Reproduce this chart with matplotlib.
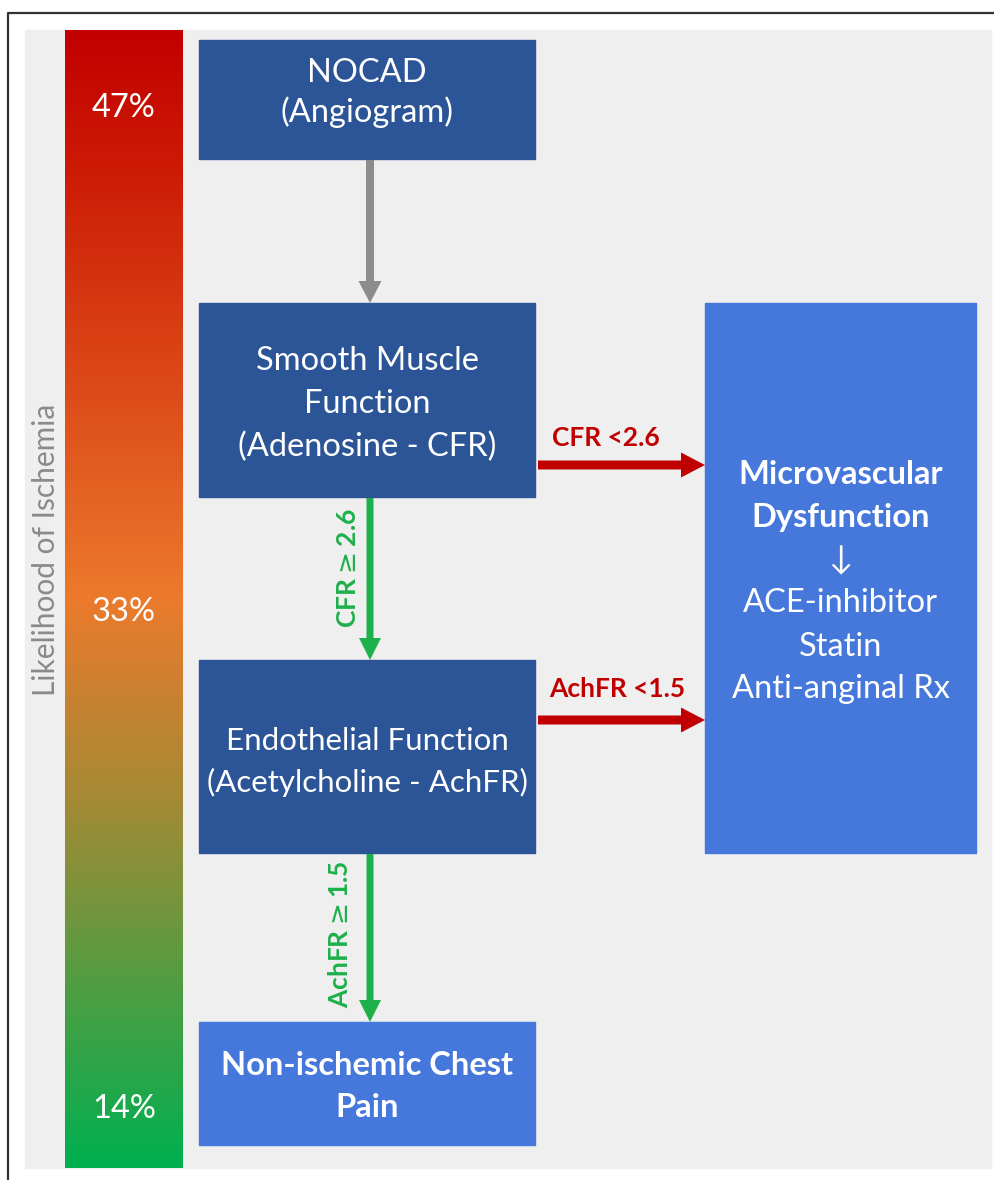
from matplotlib import pyplot as plt
from matplotlib.patches import Rectangle
from matplotlib.colors import LinearSegmentedColormap
import numpy as np

# Flowchart: likelihood of ischemia bar + NOCAD work-up boxes

plt.rcParams['font.family'] = ['Lato', 'DejaVu Sans']

# chart values
pct_labels = ['47%', '33%', '14%']
bar_title = 'Likelihood of Ischemia'

box_texts = {
    'nocad': ['NOCAD', '(Angiogram)'],
    'smooth': ['Smooth Muscle', 'Function', '(Adenosine - CFR)'],
    'endo': ['Endothelial Function', '(Acetylcholine - AchFR)'],
    'nonisch': ['Non-ischemic Chest', 'Pain'],
    'micro': ['Microvascular', 'Dysfunction', '\u2193', 'ACE-inhibitor', 'Statin', 'Anti-anginal Rx'],
}
box_bold = {'nocad': 0, 'smooth': 0, 'endo': 0, 'nonisch': 2, 'micro': 2}

arrow_labels = [r'CFR$\geq$2.6', r'AchFR$\geq$1.5', 'CFR <2.6', 'AchFR <1.5']

# layout (pixel space, y down)
W, H = 995, 1180
pct_y = [108, 612, 1109]
box_xy = {
    'nocad': (199, 40, 535, 159),
    'smooth': (199, 303, 535, 497),
    'endo': (199, 660, 535, 853),
    'nonisch': (199, 1022, 535, 1145),
    'micro': (705, 303, 976, 853),
}
box_color = {'nocad': '#2B5597', 'smooth': '#2B5597', 'endo': '#2B5597',
             'nonisch': '#4677DB', 'micro': '#4677DB'}
line_gap = {'nocad': 39, 'smooth': 43, 'endo': 41, 'nonisch': 42, 'micro': 43}
text_shift = {'nocad': -7, 'smooth': 4, 'endo': 5, 'nonisch': 3, 'micro': 4}
text_size = {'nocad': 23.5, 'smooth': 23.5, 'endo': 22.5, 'nonisch': 23.5, 'micro': 23.5}

DARK_RED = '#C00000'
GREEN = '#1DB04B'
GRAY = '#8C8C8C'

fig = plt.figure(figsize=(W / 100, H / 100), dpi=100)
ax = fig.add_axes([0, 0, 1, 1])
ax.set_xlim(0, W)
ax.set_ylim(H, 0)
ax.axis('off')

# border and background panel
ax.plot([8, 8, W], [H, 13, 13], color='#333333', lw=1.6, solid_capstyle='butt')
ax.add_patch(Rectangle((25, 30), 991 - 25, 1168 - 30, color='#EFEFEF', zorder=0))

# gradient bar
cmap = LinearSegmentedColormap.from_list('isch', [(0, '#C20000'), (0.12, '#CC1A05'),
                                                  (0.5, '#EC7A2C'), (0.68, '#A38A35'),
                                                  (1.0, '#00B050')])
grad = np.linspace(0, 1, 256).reshape(-1, 1)
ax.imshow(grad, cmap=cmap, aspect='auto', extent=[65, 183, 1168, 30], zorder=1)

for lab, y in zip(pct_labels, pct_y):
    ax.text(124, y, lab, color='white', fontsize=23.5, ha='center', va='center', zorder=3)

ax.text(46, 550, bar_title, color='#8A8A8A', fontsize=21.5, rotation=90,
        ha='center', va='center')

# boxes
for key, lines in box_texts.items():
    x0, y0, x1, y1 = box_xy[key]
    ax.add_patch(Rectangle((x0, y0), x1 - x0, y1 - y0, color=box_color[key], zorder=2))
    cx, cy = (x0 + x1) / 2, (y0 + y1) / 2 + text_shift[key]
    gap = line_gap[key]
    n = len(lines)
    for i, t in enumerate(lines):
        y = cy + (i - (n - 1) / 2) * gap
        weight = 'bold' if i < box_bold[key] else 'normal'
        ax.text(cx, y, t, color='white', fontsize=text_size[key], ha='center', va='center',
                fontweight=weight, zorder=3)

# arrows
def arrow(x0, y0, x1, y1, color, width, hw, hl):
    ax.arrow(x0, y0, x1 - x0, y1 - y0, width=width, head_width=hw, head_length=hl,
             length_includes_head=True, color=color, lw=0, zorder=2)

arrow(370, 160, 370, 303, GRAY, 8, 23, 22)
arrow(370, 498, 370, 660, GREEN, 7, 22, 22)
arrow(370, 854, 370, 1022, GREEN, 7, 22, 22)
arrow(538, 465, 705, 465, DARK_RED, 9, 25, 24)
arrow(538, 720, 705, 720, DARK_RED, 9, 25, 24)

ax.text(348, 568, arrow_labels[0], color=GREEN, fontsize=19, fontweight='bold',
        rotation=90, ha='center', va='center')
ax.text(340, 934, arrow_labels[1], color=GREEN, fontsize=19, fontweight='bold',
        rotation=90, ha='center', va='center')
ax.text(606, 438, arrow_labels[2], color=DARK_RED, fontsize=19, fontweight='bold',
        ha='center', va='center')
ax.text(617, 689, arrow_labels[3], color=DARK_RED, fontsize=19, fontweight='bold',
        ha='center', va='center')

plt.savefig('out.png', dpi=100)
